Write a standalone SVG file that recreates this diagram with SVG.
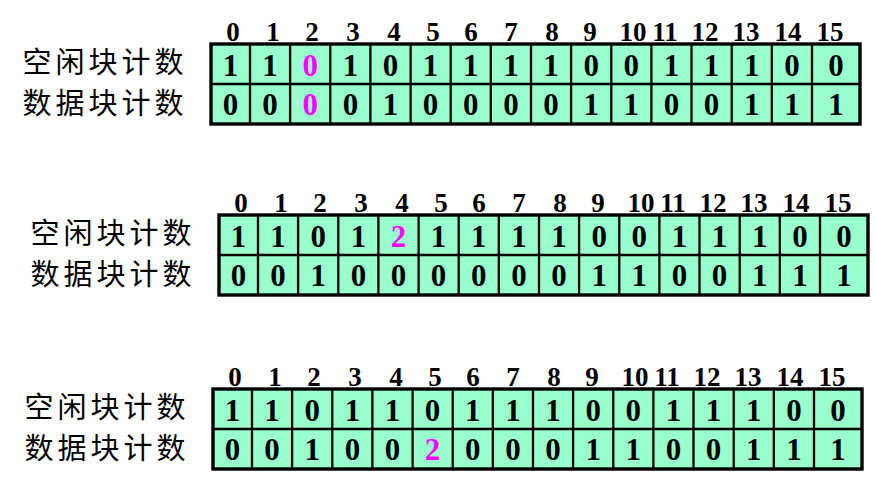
<svg xmlns="http://www.w3.org/2000/svg" width="875" height="487" viewBox="0 0 875 487">
<style>
.bg{fill:#99FFCC;stroke:none}
.grid{fill:none;stroke:#000;stroke-width:2.3}
.frame{fill:none;stroke:#000;stroke-width:3.4}
.hd{font-family:"Liberation Serif","Times New Roman",serif;font-weight:bold;font-size:27px;text-anchor:middle;fill:#000}
.v{font-family:"Liberation Serif","Times New Roman",serif;font-weight:bold;font-size:31px;text-anchor:middle;fill:#000}
.hl{fill:#FF00FF}
.lb{font-family:"Noto Sans CJK SC","Noto Sans",sans-serif;font-size:29px;fill:#000}
</style>
<defs>
<g id="tbl">
<rect class="bg" x="0" y="0" width="649" height="80"/>
<path class="grid" d="M0 40H649M39 0V80M79.1 0V80M119.3 0V80M159.4 0V80M199.6 0V80M239.7 0V80M279.8 0V80M320 0V80M360.1 0V80M400.3 0V80M440.4 0V80M480.5 0V80M520.7 0V80M560.8 0V80M601 0V80"/>
<rect class="frame" x="0" y="0" width="649" height="80"/>
<g class="hd">
<text x="22" y="-3.5">0</text><text x="62" y="-3.5">1</text><text x="101" y="-3.5">2</text><text x="142" y="-3.5">3</text><text x="183" y="-3.5">4</text><text x="222" y="-3.5">5</text><text x="260" y="-3.5">6</text><text x="300" y="-3.5">7</text><text x="341" y="-3.5">8</text><text x="379" y="-3.5">9</text><text x="422" y="-3.5">10</text><text x="454" y="-3.5">11</text><text x="494" y="-3.5">12</text><text x="535" y="-3.5">13</text><text x="577" y="-3.5">14</text><text x="619" y="-3.5">15</text>
</g>
<text class="lb" x="-188.5" y="29.3" textLength="161" lengthAdjust="spacing">空闲块计数</text>
<text class="lb" x="-188.5" y="69.5" textLength="161" lengthAdjust="spacing">数据块计数</text>
</g>
</defs>

<g id="table1" transform="translate(211,44)">
<use href="#tbl"/>
<g class="v">
<text x="19.5" y="31.5">1</text><text x="59.1" y="31.5">1</text><text x="99.2" y="31.5" class="hl">0</text><text x="139.4" y="31.5">1</text><text x="179.5" y="31.5">0</text><text x="219.6" y="31.5">1</text><text x="259.8" y="31.5">1</text><text x="299.9" y="31.5">1</text><text x="340.1" y="31.5">1</text><text x="380.2" y="31.5">0</text><text x="420.3" y="31.5">0</text><text x="460.5" y="31.5">1</text><text x="500.6" y="31.5">1</text><text x="540.8" y="31.5">1</text><text x="580.9" y="31.5">0</text><text x="625" y="31.5">0</text>
<text x="19.5" y="71.3">0</text><text x="59.1" y="71.3">0</text><text x="99.2" y="71.3" class="hl">0</text><text x="139.4" y="71.3">0</text><text x="179.5" y="71.3">1</text><text x="219.6" y="71.3">0</text><text x="259.8" y="71.3">0</text><text x="299.9" y="71.3">0</text><text x="340.1" y="71.3">0</text><text x="380.2" y="71.3">1</text><text x="420.3" y="71.3">1</text><text x="460.5" y="71.3">0</text><text x="500.6" y="71.3">0</text><text x="540.8" y="71.3">1</text><text x="580.9" y="71.3">1</text><text x="625" y="71.3">1</text>
</g>
</g>

<g id="table2" transform="translate(219,215)">
<use href="#tbl"/>
<g class="v">
<text x="19.5" y="31.5">1</text><text x="59.1" y="31.5">1</text><text x="99.2" y="31.5">0</text><text x="139.4" y="31.5">1</text><text x="179.5" y="31.5" class="hl">2</text><text x="219.6" y="31.5">1</text><text x="259.8" y="31.5">1</text><text x="299.9" y="31.5">1</text><text x="340.1" y="31.5">1</text><text x="380.2" y="31.5">0</text><text x="420.3" y="31.5">0</text><text x="460.5" y="31.5">1</text><text x="500.6" y="31.5">1</text><text x="540.8" y="31.5">1</text><text x="580.9" y="31.5">0</text><text x="625" y="31.5">0</text>
<text x="19.5" y="71.3">0</text><text x="59.1" y="71.3">0</text><text x="99.2" y="71.3">1</text><text x="139.4" y="71.3">0</text><text x="179.5" y="71.3">0</text><text x="219.6" y="71.3">0</text><text x="259.8" y="71.3">0</text><text x="299.9" y="71.3">0</text><text x="340.1" y="71.3">0</text><text x="380.2" y="71.3">1</text><text x="420.3" y="71.3">1</text><text x="460.5" y="71.3">0</text><text x="500.6" y="71.3">0</text><text x="540.8" y="71.3">1</text><text x="580.9" y="71.3">1</text><text x="625" y="71.3">1</text>
</g>
</g>

<g id="table3" transform="translate(213,389)">
<use href="#tbl"/>
<g class="v">
<text x="19.5" y="31.5">1</text><text x="59.1" y="31.5">1</text><text x="99.2" y="31.5">0</text><text x="139.4" y="31.5">1</text><text x="179.5" y="31.5">1</text><text x="219.6" y="31.5">0</text><text x="259.8" y="31.5">1</text><text x="299.9" y="31.5">1</text><text x="340.1" y="31.5">1</text><text x="380.2" y="31.5">0</text><text x="420.3" y="31.5">0</text><text x="460.5" y="31.5">1</text><text x="500.6" y="31.5">1</text><text x="540.8" y="31.5">1</text><text x="580.9" y="31.5">0</text><text x="625" y="31.5">0</text>
<text x="19.5" y="71.3">0</text><text x="59.1" y="71.3">0</text><text x="99.2" y="71.3">1</text><text x="139.4" y="71.3">0</text><text x="179.5" y="71.3">0</text><text x="219.6" y="71.3" class="hl">2</text><text x="259.8" y="71.3">0</text><text x="299.9" y="71.3">0</text><text x="340.1" y="71.3">0</text><text x="380.2" y="71.3">1</text><text x="420.3" y="71.3">1</text><text x="460.5" y="71.3">0</text><text x="500.6" y="71.3">0</text><text x="540.8" y="71.3">1</text><text x="580.9" y="71.3">1</text><text x="625" y="71.3">1</text>
</g>
</g>
</svg>
